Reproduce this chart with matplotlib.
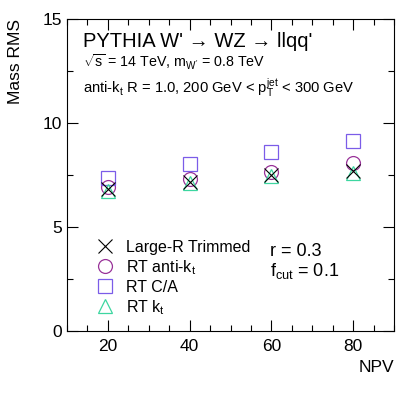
import matplotlib
matplotlib.use('Agg')
import matplotlib.pyplot as plt
from matplotlib.ticker import MultipleLocator

plt.rcParams['font.family'] = ['Liberation Sans', 'DejaVu Sans']
plt.rcParams['mathtext.fontset'] = 'custom'
plt.rcParams['mathtext.rm'] = 'Liberation Sans'
plt.rcParams['mathtext.it'] = 'Liberation Sans'
plt.rcParams['mathtext.bf'] = 'Liberation Sans'

# data
npv = [20, 40, 60, 80]
trimmed = [6.83, 7.18, 7.50, 7.70]
rt_antikt = [6.94, 7.31, 7.63, 8.06]
rt_ca = [7.34, 8.01, 8.60, 9.12]
rt_kt = [6.74, 7.13, 7.46, 7.62]

fig = plt.figure(figsize=(4.15, 3.95), dpi=100)
ax = fig.add_axes([67 / 415, 1 - 331 / 395, 327 / 415, 312 / 395])

ms = 10
ax.plot(npv, trimmed, 'x', color='black', ms=ms, mew=0.8, label='Large-R Trimmed', zorder=5)
ax.plot(npv, rt_antikt, 'o', mfc='none', mec='#993399', ms=ms, mew=0.9, label='RT anti-k$_\\mathrm{t}$')
ax.plot(npv, rt_ca, 's', mfc='none', mec='#7b5ce8', ms=ms, mew=0.9, label='RT C/A')
ax.plot(npv, rt_kt, '^', mfc='none', mec='#3dd6a0', ms=ms, mew=0.9, label='RT k$_\\mathrm{t}$')

ax.set_xlim(10, 90)
ax.set_ylim(0, 15)
ax.xaxis.set_major_locator(MultipleLocator(20))
ax.xaxis.set_minor_locator(MultipleLocator(5))
ax.yaxis.set_major_locator(MultipleLocator(5))
ax.yaxis.set_minor_locator(MultipleLocator(2.5))
ax.tick_params(which='both', direction='in', top=True, right=True, width=0.8, labelsize=12.5)
ax.tick_params(which='major', length=8)
ax.tick_params(which='minor', length=4)
ax.tick_params(axis='x', pad=6)
for s in ax.spines.values():
    s.set_linewidth(0.8)

ax.set_xlabel('NPV', fontsize=12.5, loc='right')
ax.set_ylabel('Mass RMS', fontsize=12.5, loc='top', labelpad=14)

ax.text(0.05, 0.91, "PYTHIA W' \u2192 WZ \u2192 llqq'", transform=ax.transAxes,
        fontsize=14.5, va='baseline')
ax.text(0.05, 0.843, "$\\sqrt{\\mathrm{s}}$ = 14 TeV, m$_\\mathrm{W'}$ = 0.8 TeV", transform=ax.transAxes,
        fontsize=10.3, va='baseline')
ax.text(0.05, 0.76, "anti-k$_\\mathrm{t}$ R = 1.0, 200 GeV < p$_\\mathrm{T}^\\mathrm{jet}$ < 300 GeV",
        transform=ax.transAxes, fontsize=10.6, va='baseline')

ax.text(0.621, 0.24, 'r = 0.3', transform=ax.transAxes, fontsize=13, va='baseline')
ax.text(0.621, 0.176, 'f$_\\mathrm{cut}$ = 0.1', transform=ax.transAxes, fontsize=13, va='baseline')

ax.legend(loc='lower left', bbox_to_anchor=(0.086, 0.046), frameon=False, fontsize=11.5,
          handlelength=1.2, handletextpad=0.75, labelspacing=0.2, borderpad=0, borderaxespad=0)

fig.savefig('out.png', dpi=100)
